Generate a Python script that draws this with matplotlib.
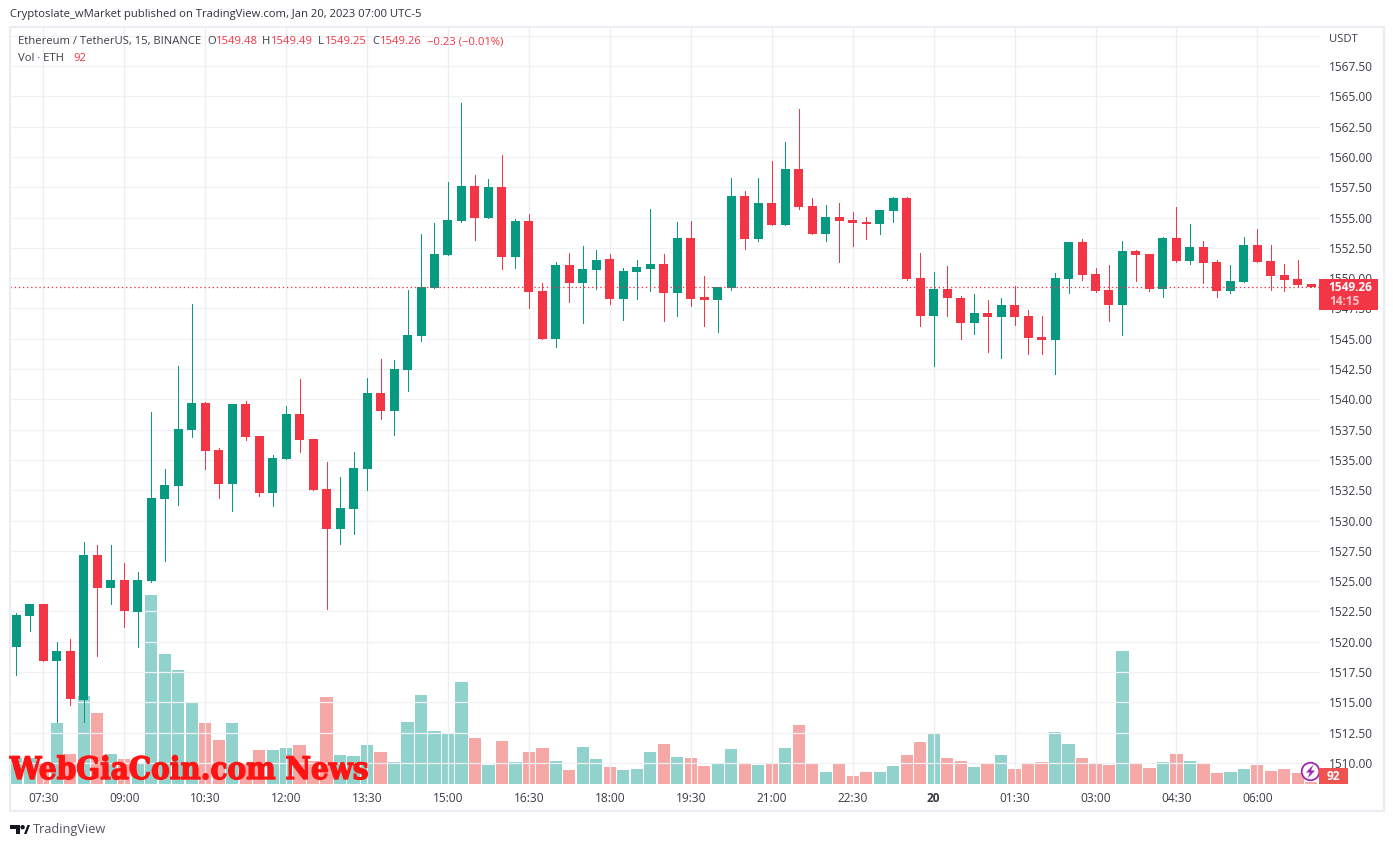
import matplotlib
matplotlib.use("Agg")
import matplotlib.pyplot as plt
from matplotlib.patches import Rectangle, Circle, Polygon
import matplotlib.patheffects as pe

# ---------- data ----------
opens = [1519.6,1522.15,1523.1,1518.43,1519.23,1515.2,1527.15,1524.45,1525.1,1522.47,1525.0,1531.77,1532.85,1537.47,1539.7,1535.8,1533.0,1539.6,1537.0,1532.3,1535.1,1538.8,1536.7,1532.6,1529.3,1530.95,1534.25,1540.52,1539.03,1542.42,1545.2,1549.2,1551.9,1554.7,1557.6,1554.96,1557.5,1551.74,1554.7,1548.93,1544.98,1551.08,1549.6,1550.67,1551.58,1548.28,1550.5,1550.75,1551.17,1548.77,1553.3,1548.4,1548.2,1549.2,1556.77,1553.23,1556.2,1554.38,1559.0,1555.95,1553.64,1555.04,1554.8,1554.63,1554.46,1555.54,1556.6,1550.0,1546.87,1549.1,1548.36,1546.3,1547.12,1546.8,1547.8,1546.87,1545.14,1544.9,1549.93,1552.98,1550.33,1549.0,1547.8,1552.24,1552.0,1549.1,1553.3,1551.4,1552.57,1551.33,1548.93,1549.68,1552.73,1551.4,1550.25,1549.93,1549.48]
highs = [1522.4,1523.1,1523.1,1520.0,1520.2,1528.2,1527.98,1527.98,1526.5,1525.75,1538.95,1534.25,1542.75,1547.86,1539.8,1536.0,1539.6,1539.9,1537.0,1535.4,1539.45,1541.7,1536.7,1534.8,1533.6,1535.65,1541.76,1543.33,1543.24,1549.0,1553.64,1554.55,1557.93,1564.45,1558.5,1558.18,1560.16,1554.9,1555.3,1549.6,1551.3,1552.07,1552.65,1552.3,1552.0,1550.83,1551.5,1555.7,1552.0,1554.63,1554.7,1550.17,1549.3,1558.26,1557.2,1558.26,1559.66,1561.23,1563.95,1556.6,1556.03,1556.2,1555.45,1555.04,1555.6,1556.7,1556.7,1552.07,1550.5,1551.0,1548.5,1548.7,1548.2,1548.36,1549.35,1547.37,1546.87,1550.42,1552.98,1553.23,1550.83,1551.08,1553.06,1552.32,1552.0,1553.4,1555.87,1554.46,1553.06,1551.5,1551.08,1553.4,1554.05,1552.73,1551.17,1551.5,1549.49]
lows = [1517.25,1520.9,1518.43,1513.37,1514.8,1513.37,1518.85,1523.14,1521.24,1519.6,1524.9,1526.66,1531.28,1536.9,1534.25,1531.86,1530.8,1536.65,1532.0,1531.2,1535.1,1535.65,1532.5,1522.7,1528.06,1528.9,1532.5,1538.37,1537.05,1540.7,1544.8,1549.2,1551.9,1554.6,1553.14,1554.96,1550.75,1550.83,1547.53,1544.98,1544.3,1548.03,1546.3,1549.1,1547.86,1546.54,1548.28,1548.93,1546.46,1546.87,1547.7,1546.05,1545.55,1549.0,1552.4,1553.06,1554.38,1554.38,1555.7,1553.64,1553.06,1551.33,1552.65,1553.23,1553.64,1554.63,1549.85,1546.05,1542.75,1546.87,1545.0,1545.4,1543.9,1543.4,1546.13,1543.74,1543.74,1542.08,1548.77,1549.85,1548.85,1546.46,1545.3,1549.76,1548.93,1548.44,1551.33,1551.17,1549.6,1548.44,1548.77,1549.68,1551.33,1549.0,1548.93,1549.34,1549.25]
closes = [1522.2,1523.1,1518.43,1519.23,1515.3,1527.15,1524.45,1525.1,1522.56,1525.1,1531.86,1532.93,1537.55,1539.7,1535.73,1533.0,1539.6,1536.9,1532.3,1535.15,1538.8,1536.64,1532.5,1529.3,1531.03,1534.33,1540.52,1539.03,1542.5,1545.3,1549.27,1552.0,1554.8,1557.6,1554.96,1557.5,1551.74,1554.7,1548.85,1544.98,1551.08,1549.6,1550.75,1551.5,1548.28,1550.6,1550.9,1551.17,1548.77,1553.3,1548.28,1548.2,1549.27,1556.77,1553.23,1556.2,1554.38,1559.0,1555.87,1553.64,1555.04,1554.7,1554.55,1554.46,1555.6,1556.6,1549.93,1546.87,1549.1,1548.36,1546.3,1547.12,1546.8,1547.8,1546.8,1545.06,1544.9,1550.0,1552.98,1550.25,1548.93,1547.8,1552.24,1551.9,1549.1,1553.3,1551.4,1552.57,1551.25,1548.93,1549.76,1552.73,1551.33,1550.17,1549.85,1549.42,1549.26]
volumes = [962,962,777,2257,1110,3256,2627,1110,925,740,6993,4810,4218,3034,2257,1628,2257,740,1258,1258,1332,1443,851,3219,1073,1036,1443,1184,814,2294,3293,1961,1850,3774,1702,
           703,1591,814,1184,1332,851,518,1369,925,629,518,555,1184,1480,999,962,666,740,1295,740,703,777,1332,2183,777,444,777,296,444,444,666,1073,1554,1887,
           962,851,629,740,1073,555,777,814,1924,1480,962,777,703,4921,740,592,814,1110,851,777,407,444,555,703,481,555,407,92]
time_labels = ["07:30","09:00","10:30","12:00","13:30","15:00","16:30","18:00","19:30","21:00","22:30","20","01:30","03:00","04:30","06:00"]
price_ticks = [1510.0,1512.5,1515.0,1517.5,1520.0,1522.5,1525.0,1527.5,1530.0,1532.5,1535.0,1537.5,1540.0,1542.5,1545.0,1547.5,1550.0,1552.5,1555.0,1557.5,1560.0,1562.5,1565.0,1567.5]

# ---------- styles ----------
W, H = 1393, 847
UP, DOWN = "#089981", "#F23645"
VUP, VDOWN = "#26A69A", "#EF5350"
GRID = "#F0F1F5"
FRAME = "#ECEDF3"
TXT = "#3A3D47"
FONT = ["Open Sans", "DejaVu Sans"]
LEG = 8.1
STEP = 13.49
plt.rcParams["font.family"] = FONT
plt.rcParams["font.size"] = LEG

fig = plt.figure(figsize=(W / 100, H / 100), dpi=100, facecolor="white")
L, R, T, B = 10, 1320, 27, 784
rect = [L / W, 1 - B / H, (R - L) / W, (B - T) / H]

vax = fig.add_axes(rect, zorder=1)
ax = fig.add_axes(rect, zorder=2)
ax.patch.set_visible(False)

n = len(closes)
xs = list(range(n))
tick_idx = list(range(2, n, 6))[:len(time_labels)]

# volumes under candles, with the grid
vax.bar(xs, volumes, width=12.2 / STEP, linewidth=0, alpha=0.5, antialiased=False,
        color=[VUP if c >= o else VDOWN for o, c in zip(opens, closes)], zorder=3)
vax.set_ylim(0, 757 * 37)
vax.set_yticks([])
vax.set_xticks([])
for t in price_ticks + [1570.0]:
    ax.axhline(t, color=GRID, lw=0.9, zorder=0)
for i in tick_idx:
    ax.axvline(i, color="#EDEEF2", lw=0.9, zorder=0)

# candles
cols = [UP if c >= o else DOWN for o, c in zip(opens, closes)]
ax.vlines(xs, lows, highs, colors=cols, lw=0.72, antialiased=False, zorder=3)
ax.bar(xs, [max(abs(c - o), 0.1) for o, c in zip(opens, closes)],
       bottom=[min(o, c) for o, c in zip(opens, closes)],
       width=9 / STEP, color=cols, linewidth=0, antialiased=False, zorder=4)
ax.axhline(closes[-1], color=DOWN, lw=0.9, ls=(0, (1.1, 2.2)), zorder=5)

ax.set_xlim((L - 16.3) / STEP, (R - 16.3) / STEP)
vax.set_xlim(ax.get_xlim())
ax.set_ylim(1565 - (B - 96.3) / 12.12, 1565 + (96.3 - T) / 12.12)

ax.yaxis.tick_right()
ax.set_yticks(price_ticks)
ax.set_yticklabels([f"{t:.2f}" for t in price_ticks], color=TXT, fontsize=8.6)
ax.set_xticks(tick_idx)
ax.set_xticklabels(time_labels, color=TXT, fontsize=8.6)
for lab, s in zip(ax.get_xticklabels(), time_labels):
    if s == "20":
        lab.set_fontweight("bold")
ax.tick_params(axis="both", length=0)
ax.tick_params(axis="y", pad=6.4)
ax.tick_params(axis="x", pad=6)
for a in (ax, vax):
    for s in a.spines.values():
        s.set_visible(False)

# ---------- overlay in image pixels: frame, legend, tags, logos ----------
ov = fig.add_axes([0, 0, 1, 1], zorder=5)
ov.set_xlim(0, W)
ov.set_ylim(H, 0)
ov.axis("off")
ov.patch.set_visible(False)
ov.add_patch(Rectangle((9.5, 27), 1374, 784.5, fill=False, ec=FRAME, lw=1.6))

ov.text(10, 14, "Cryptoslate_wMarket published on TradingView.com, Jan 20, 2023 07:00 UTC-5",
        color="#2F323B", va="center", fontsize=LEG)
ov.text(18, 41.5, "Ethereum / TetherUS, 15, BINANCE", color=TXT, va="center", fontsize=LEG)
for x, s, c in [(207, "O", TXT), (216, "1549.48", DOWN), (262, "H", TXT), (271, "1549.49", DOWN),
                (318, "L", TXT), (325, "1549.25", DOWN), (372, "C", TXT), (380, "1549.26", DOWN),
                (427, "\u22120.23 (\u22120.01%)", DOWN)]:
    ov.text(x, 41.5, s, color=c, va="center", fontsize=LEG)
ov.text(18, 58.5, "Vol \u00b7 ETH", color=TXT, va="center", fontsize=LEG)
ov.text(73, 58.5, "92", color=DOWN, va="center", fontsize=LEG)
ov.text(1329, 40, "USDT", color=TXT, va="center", fontsize=LEG)

# watermark, fitted to its measured width
wm = ov.text(10, 779, "WebGiaCoin.com News", color="#FF1414", va="baseline", ha="left",
             family="DejaVu Serif", stretch="condensed", weight="bold", fontsize=20,
             path_effects=[pe.withStroke(linewidth=1.0, foreground="#FF1414")], zorder=6)
fig.canvas.draw()
wm.set_fontsize(20 * 358 / wm.get_window_extent().width)

# last-price tag
close_px = H - ax.transData.transform((0, closes[-1]))[1]
ov.add_patch(Rectangle((1319, close_px - 8.5), 59, 31, fc=DOWN, ec="none", zorder=7))
ov.text(1350, close_px + 0.3, f"{closes[-1]:.2f}", color="white", weight="bold",
        ha="center", va="center", fontsize=8.6, zorder=8)
ov.text(1344, close_px + 14, "14:15", color="#FCC5CB", weight="bold",
        ha="center", va="center", fontsize=8.6, zorder=8)

# volume tag and the purple icon
ov.add_patch(Circle((1310.5, 771.5), 8.8, fc="white", ec="#9C27B0", lw=1.3, zorder=7))
ov.add_patch(Polygon([(1313.5, 764.5), (1306, 772.5), (1310, 772.5), (1307.5, 778.5),
                      (1315, 770.5), (1311, 770.5)], fc="#9C27B0", ec="none", zorder=7))
ov.add_patch(Rectangle((1319, 768), 29, 16, fc=VDOWN, ec="none", zorder=7))
ov.text(1333.5, 776, f"{volumes[-1]}", color="white", weight="bold", ha="center", va="center",
        fontsize=8.6, zorder=8)

# TradingView logo
ov.add_patch(Polygon([(10, 825), (20, 825), (20, 834), (15.5, 834), (15.5, 829.5), (10, 829.5)],
                     fc="#131722", ec="none"))
ov.add_patch(Circle((22.6, 827.2), 2.2, fc="#131722", ec="none"))
ov.add_patch(Polygon([(24, 834), (27.5, 825), (30, 825), (26.5, 834)], fc="#131722", ec="none"))
ov.text(33, 829.5, "TradingView", color="#50535E", va="center", fontsize=9.2)

fig.savefig("out.png", dpi=100, facecolor="white")
